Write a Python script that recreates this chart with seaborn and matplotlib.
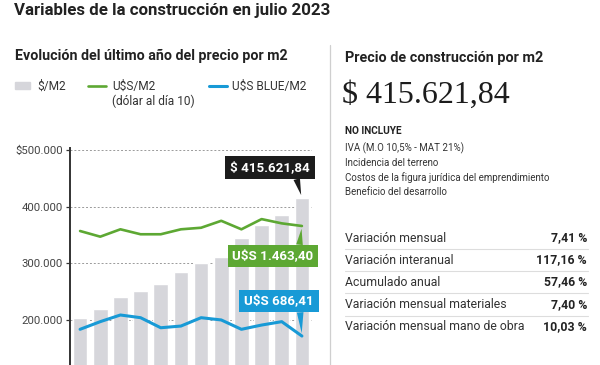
import matplotlib
matplotlib.use("Agg")
import numpy as np
import pandas as pd
import matplotlib.pyplot as plt
import seaborn as sns
from matplotlib.lines import Line2D
from matplotlib.patches import Rectangle

# data
meses = ["ago-22", "sep-22", "oct-22", "nov-22", "dic-22", "ene-23",
         "feb-23", "mar-23", "abr-23", "may-23", "jun-23", "jul-23"]
precio_m2 = [202900, 218800, 241000, 251600, 262900, 284600,
             300000, 311600, 344100, 367600, 385200, 415621.84]
usd_m2 = [1428, 1388, 1440, 1405, 1405, 1440,
          1451, 1500, 1440, 1512, 1482, 1463.40]
usd_blue_m2 = [734, 788, 835, 816, 745, 757,
               816, 800, 734, 764, 788, 686.41]
y_ticks = [200000, 300000, 400000, 500000]

no_incluye = ["IVA (M.O 10,5% - MAT 21%)", "Incidencia del terreno",
              "Costos de la figura jurídica del emprendimiento",
              "Beneficio del desarrollo"]
variables = ["Variación mensual", "Variación interanual", "Acumulado anual",
             "Variación mensual materiales", "Variación mensual mano de obra"]
valores = ["7,41 %", "117,16 %", "57,46 %", "7,40 %", "10,03 %"]

GRAY = "#d6d6db"
GREEN = "#5da833"
BLUE = "#189ad6"
DARK = "#1c1c1c"
TXT = "#222222"

sns.set_style("white")
plt.rcParams["font.family"] = ["Roboto", "DejaVu Sans"]

fig = plt.figure(figsize=(6, 3.65), dpi=100)
W, H = 600, 365
def fx(x): return x / W
def fy(y): return 1 - y / H

# chart area (bottom is cut off like in the reference)
ax = fig.add_axes([fx(70), 0, 242 / W, 217 / H])
df = pd.DataFrame({"mes": meses, "precio": precio_m2,
                   "usd": usd_m2, "blue": usd_blue_m2})
df["pos"] = np.arange(len(df))

sns.barplot(data=df, x="mes", y="precio", color=GRAY, saturation=1,
            width=0.72, ax=ax, zorder=2)
ax.set_xlim(-0.5, len(meses) - 0.5)
ax.set_ylim(120500, 503500)
ax.set_yticks(y_ticks)
ax.set_yticklabels([("$" if v == max(y_ticks) else "") + f"{v:,.0f}".replace(",", ".") for v in y_ticks])
ax.yaxis.grid(True, linestyle=(0, (2, 2)), color="#9a9a9a", lw=0.7)
ax.set_axisbelow(True)
ax.tick_params(axis="x", length=0, labelbottom=False)
ax.tick_params(axis="y", direction="out", length=3, width=0.9, color="#333",
               labelsize=8.2, labelcolor="#444", pad=2)
for s in ["top", "right", "bottom"]:
    ax.spines[s].set_visible(False)
ax.spines["left"].set_color("#333")
ax.spines["left"].set_linewidth(1.4)
ax.set_xlabel("")
ax.set_ylabel("")

# dollar series share the same visual scale (1 U$S = 250 on the left axis)
ax2 = ax.twinx()
ax2.set_ylim(ax.get_ylim()[0] / 250, ax.get_ylim()[1] / 250)
sns.lineplot(data=df, x="pos", y="usd", color=GREEN, lw=1.9, ax=ax2)
sns.lineplot(data=df, x="pos", y="blue", color=BLUE, lw=2.2, ax=ax2)
ax2.set_xlim(ax.get_xlim())
ax2.axis("off")

last = len(meses) - 1
def callout(a, text, y, fc, off, relpos):
    a.annotate(text, xy=(last, y), xytext=off, textcoords="offset pixels",
               ha="center", va="center", color="white", fontsize=9.6,
               fontweight="bold",
               bbox=dict(boxstyle="square,pad=0.36", fc=fc, ec="none"),
               arrowprops=dict(arrowstyle="wedge,tail_width=0.5,shrink_factor=0.5",
                               fc=fc, ec="none", relpos=relpos,
                               shrinkA=0, shrinkB=2),
               zorder=5)

callout(ax, "$ 415.621,84", precio_m2[-1], DARK, (-32, 30), (0.82, 0))
callout(ax2, "U$S 1.463,40", usd_m2[-1], GREEN, (-29, -30), (0.82, 1))
callout(ax2, "U$S 686,41", usd_blue_m2[-1], BLUE, (-23, 35), (0.8, 0))

# titles
fig.text(fx(14), fy(11), "Variables de la construcción en julio 2023",
         fontsize=12.2, fontweight="bold", color=TXT, va="center")
fig.text(fx(15), fy(56), "Evolución del último año del precio por m2",
         fontsize=10.3, fontweight="bold", color=TXT, va="center")

# legend
fig.add_artist(Rectangle((fx(15), fy(89)), 15 / W, 7 / H, color=GRAY,
                         transform=fig.transFigure))
fig.text(fx(37), fy(86), "$/M2", fontsize=8.6, color="#333", va="center")
fig.add_artist(Line2D([fx(88), fx(106)], [fy(86), fy(86)], color=GREEN, lw=1.9))
fig.text(fx(112), fy(86), "U$S/M2", fontsize=8.6, color="#333", va="center")
fig.text(fx(112), fy(101), "(dólar al día 10)", fontsize=8.6, color="#333", va="center")
fig.add_artist(Line2D([fx(209), fx(227)], [fy(86), fy(86)], color=BLUE, lw=2.2))
fig.text(fx(232), fy(86), "U$S BLUE/M2", fontsize=8.6, color="#333", va="center")

# separator
fig.add_artist(Line2D([fx(330), fx(330)], [fy(45), 0], color="#cfcfcf", lw=0.9))

# right panel
fig.text(fx(345), fy(58), "Precio de construcción por m2",
         fontsize=10.4, fontweight="bold", color=TXT, va="center")
fig.text(fx(342), fy(95), "$ 415.621,84", fontsize=23, color=DARK,
         family=["Liberation Serif", "DejaVu Serif"], va="center")
fig.text(fx(345), fy(131), "NO INCLUYE", fontsize=7.2, fontweight="bold",
         color=TXT, va="center")
for i, t in enumerate(no_incluye):
    fig.text(fx(345), fy(148 + i * 14.6), t, fontsize=7, color="#333", va="center")

row_y = [238, 260, 282, 304.5, 327]
for i, (lab, val) in enumerate(zip(variables, valores)):
    fig.text(fx(345), fy(row_y[i]), lab, fontsize=8.8, color="#333", va="center")
    fig.text(fx(587), fy(row_y[i]), val, fontsize=8.8, color=TXT,
             fontweight="bold", va="center", ha="right")
    if i < len(variables) - 1:
        ym = (row_y[i] + row_y[i + 1]) / 2
        fig.add_artist(Line2D([fx(345), fx(588)], [fy(ym), fy(ym)],
                              color="#dddddd", lw=0.8))

fig.savefig("out.png", dpi=100)
